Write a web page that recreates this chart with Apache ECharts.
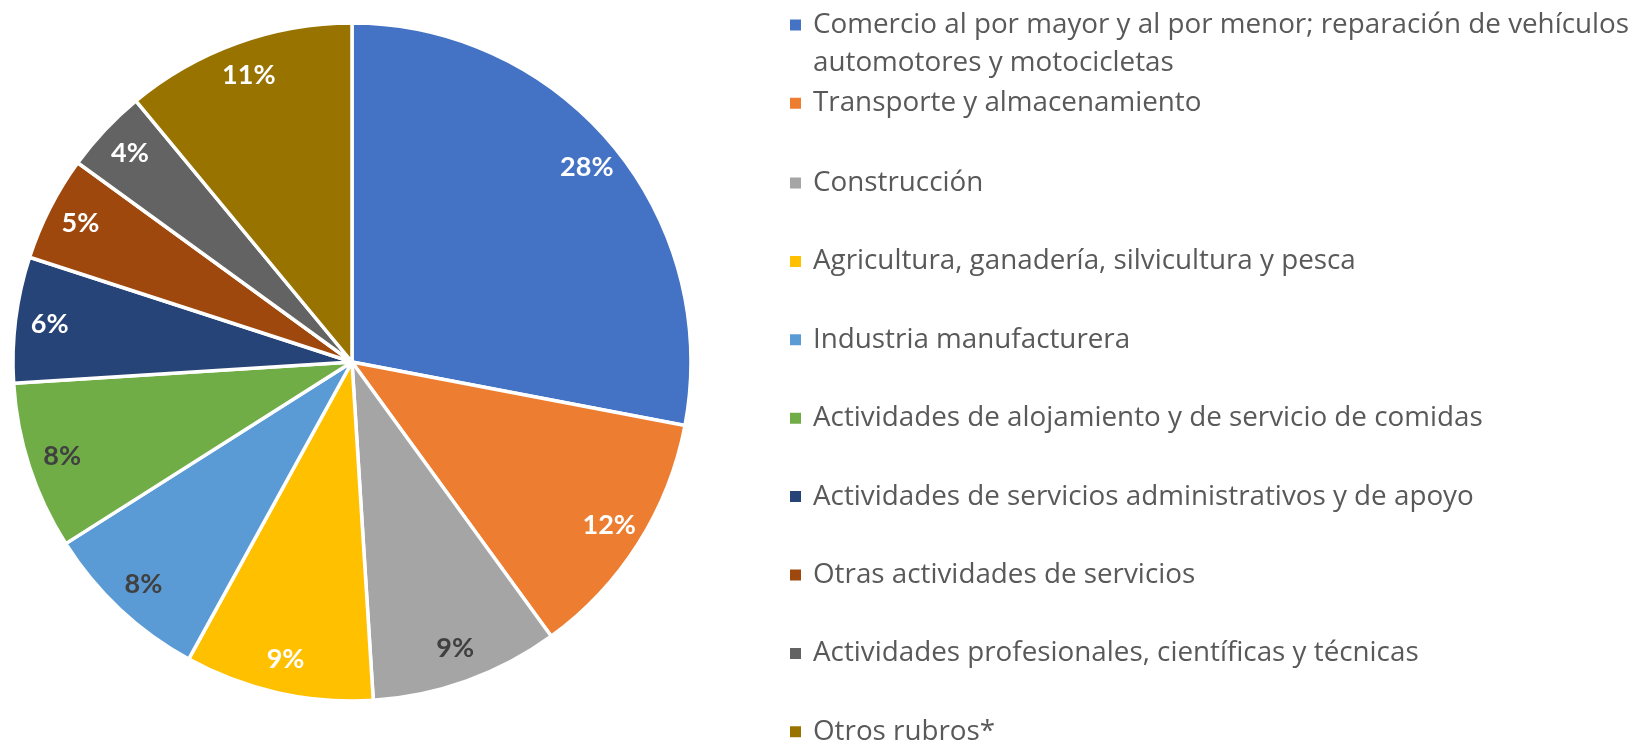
<!DOCTYPE html>
<html>
<head>
<meta charset="utf-8">
<script src="https://cdn.jsdelivr.net/npm/echarts@6/dist/echarts.min.js"></script>
<style>
  html, body { margin: 0; padding: 0; background: #ffffff; }
  #chart { width: 1633px; height: 743px; }
</style>
</head>
<body>
<div id="chart"></div>
<script>
// Sectores económicos (participación porcentual)
const categories = [
  'Comercio al por mayor y al por menor; reparación de vehículos automotores y motocicletas',
  'Transporte y almacenamiento',
  'Construcción',
  'Agricultura, ganadería, silvicultura y pesca',
  'Industria manufacturera',
  'Actividades de alojamiento y de servicio de comidas',
  'Actividades de servicios administrativos y de apoyo',
  'Otras actividades de servicios',
  'Actividades profesionales, científicas y técnicas',
  'Otros rubros*'
];
const shares = [28, 12, 9, 9, 8, 8, 6, 5, 4, 11];

// Styling
const sliceColors = ['#4472C4', '#ED7D31', '#A5A5A5', '#FFC000', '#5B9BD5',
                     '#70AD47', '#264478', '#9E480E', '#636363', '#997300'];
const labelColors = ['#FFFFFF', '#FFFFFF', '#404040', '#FFFFFF', '#404040',
                     '#404040', '#FFFFFF', '#FFFFFF', '#FFFFFF', '#FFFFFF'];

const FONT = 'Lato, "Open Sans", sans-serif';
const LEGEND_FONT = '"Open Sans", Lato, sans-serif';
const CENTER = [352, 362];
const R = 339;
const LINE = 38;

const pieData = categories.map((name, i) => ({
  name: name,
  value: shares[i],
  itemStyle: { color: sliceColors[i] }
}));

const labelData = categories.map((name, i) => ({
  name: name,
  value: shares[i],
  label: { color: labelColors[i] }
}));

const legendText = {
  color: '#595959',
  fontFamily: LEGEND_FONT,
  fontSize: 27.8,
  lineHeight: LINE,
  padding: [0, 0, 0, 6]
};

const chart = echarts.init(document.getElementById('chart'), null, { renderer: 'canvas' });

chart.setOption({
  backgroundColor: '#ffffff',
  animation: false,
  legend: [
    {
      // first entry wraps onto a second line; the leading blank line keeps
      // the marker level with the first line of text
      data: [categories[0]],
      orient: 'vertical',
      left: 788,
      top: -32,
      padding: 0,
      icon: 'rect',
      itemWidth: 13,
      itemHeight: 13,
      formatter: name => '\n' + name.replace(' automotores', '\nautomotores'),
      textStyle: legendText
    },
    {
      data: [categories[1]],
      orient: 'vertical',
      left: 788,
      top: 96.8 - (LINE / 2 - 6.5),
      padding: 0,
      icon: 'rect',
      itemWidth: 13,
      itemHeight: 13,
      textStyle: legendText
    },
    {
      data: categories.slice(2),
      orient: 'vertical',
      left: 788,
      top: 176.5 - (LINE / 2 - 6.5),
      height: 700,
      padding: 0,
      itemGap: 78.4 - LINE,
      icon: 'rect',
      itemWidth: 13,
      itemHeight: 13,
      textStyle: legendText
    }
  ],
  series: [
    {
      type: 'pie',
      center: CENTER,
      radius: [0, R],
      startAngle: 90,
      clockwise: true,
      data: pieData,
      label: { show: false },
      labelLine: { show: false },
      itemStyle: { borderColor: '#ffffff', borderWidth: 3.5 },
      emphasis: { disabled: true }
    },
    {
      // ring carrying the percentage labels near the rim
      type: 'pie',
      center: CENTER,
      radius: [R * 0.78, R],
      startAngle: 90,
      clockwise: true,
      silent: true,
      data: labelData,
      itemStyle: { color: 'rgba(0,0,0,0)', borderWidth: 0 },
      label: {
        show: true,
        position: 'inside',
        formatter: p => p.value + '%',
        fontFamily: FONT,
        fontWeight: 'bold',
        fontSize: 27
      },
      labelLine: { show: false },
      emphasis: { disabled: true }
    }
  ]
});
</script>
</body>
</html>
